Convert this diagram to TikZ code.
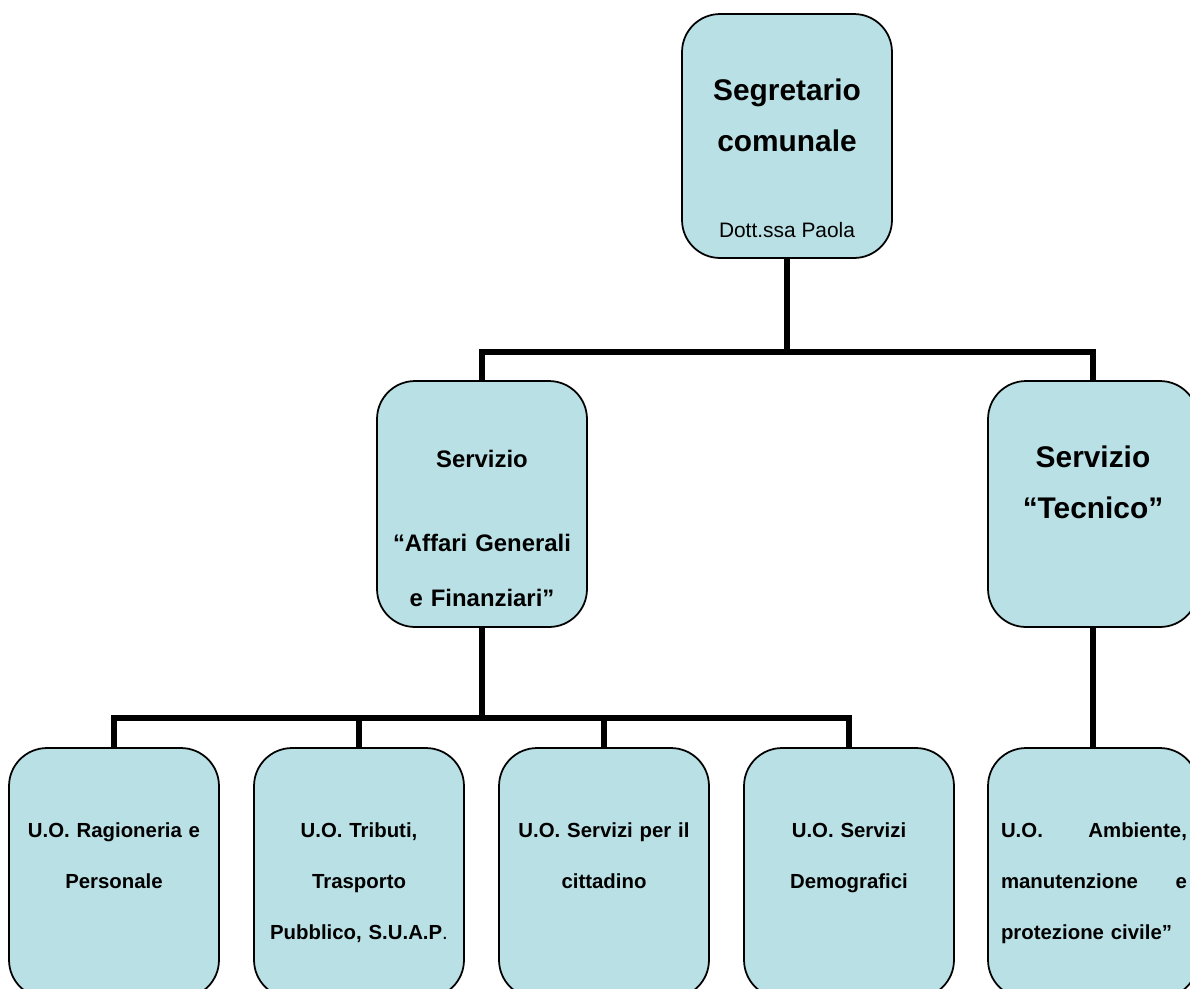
\documentclass[tikz,border=0pt]{standalone}
\usepackage{fontspec}
\setmainfont{Liberation Sans}
\definecolor{uofill}{RGB}{185,224,228}
\tikzset{
  ufficio/.style={draw=black, line width=1pt, fill=uofill, rounded corners=0.76cm,
    minimum width=4.2cm, inner sep=0pt},
  wire/.style={line width=0.12cm},
  bigtxt/.style={anchor=base, inner sep=0pt, text width=4cm, align=center,
    font=\fontsize{17}{29.5}\selectfont\bfseries},
  midtxt/.style={anchor=base, inner sep=0pt, text width=4cm, align=center,
    font=\fontsize{13.6}{31.2}\selectfont\bfseries},
  smalltxt/.style={anchor=base, inner sep=0pt, text width=3.8cm, align=center,
    font=\fontsize{11.6}{29.2}\selectfont\bfseries},
  nametxt/.style={anchor=base, inner sep=0pt, font=\fontsize{11.9}{14}\selectfont}
}
\begin{document}
\begin{tikzpicture}[x=0.02cm, y=-0.02cm]
  \useasboundingbox (0,0) rectangle (1190,988);
  \clip (0,0) rectangle (1190,988);
  % boxes
  \node[ufficio, minimum height=4.88cm] (seg) at (787,136) {};
  \node[ufficio, minimum height=4.92cm] (aff) at (482,504) {};
  \node[ufficio, minimum height=4.92cm] (tec) at (1093,504) {};
  \node[ufficio, minimum height=5cm] (uo1) at (114,873) {};
  \node[ufficio, minimum height=5cm] (uo2) at (359,873) {};
  \node[ufficio, minimum height=5cm] (uo3) at (604,873) {};
  \node[ufficio, minimum height=5cm] (uo4) at (849,873) {};
  \node[ufficio, minimum height=5cm] (amb) at (1093,873) {};
  % connectors
  \coordinate (bus1) at (787,352);
  \coordinate (bus2) at (482,718);
  \draw[wire] (seg.south) -- (bus1);
  \draw[wire] (aff.north) |- (bus1) -| (tec.north);
  \draw[wire] (aff.south) -- (bus2);
  \draw[wire] (uo1.north) |- (bus2) -| (uo4.north);
  \draw[wire] (uo2.north) -- (uo2.north |- bus2);
  \draw[wire] (uo3.north) -- (uo3.north |- bus2);
  \draw[wire] (tec.south) -- (amb.north);
  % texts
  \node[bigtxt] (segt) at (787,100) {Segretario\\comunale};
  \node[nametxt] (segn) at (787,237) {Dott.ssa Paola};
  \node[midtxt] (afft) at (482,467) {Servizio\\[17pt]“Affari Generali\\e Finanziari”};
  \node[bigtxt] (tect) at (1093,467) {Servizio\\“Tecnico”};
  \node[smalltxt] (uo1t) at (114,837) {U.O. Ragioneria e\\Personale};
  \node[smalltxt] (uo2t) at (359,837) {U.O. Tributi,\\Trasporto\\Pubblico, S.U.A.P{\mdseries .}};
  \node[smalltxt] (uo3t) at (604,837) {U.O. Servizi per il\\cittadino};
  \node[smalltxt] (uo4t) at (849,837) {U.O. Servizi\\Demografici};
  \node[smalltxt, text width=3.72cm, align=left] (ambt) at (1094,837)
    {U.O.\hfill Ambiente,\\manutenzione\hfill e\\protezione civile”};
\end{tikzpicture}
\end{document}
